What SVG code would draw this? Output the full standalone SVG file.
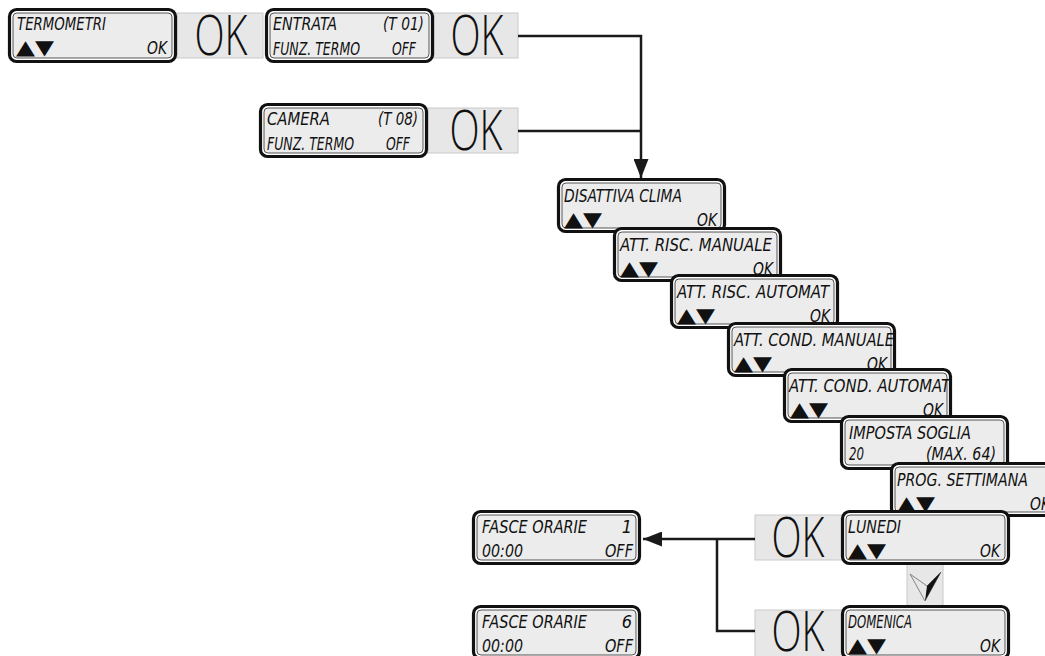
<svg xmlns="http://www.w3.org/2000/svg" width="1045" height="656" viewBox="0 0 1045 656">
<defs>
<style>
.o{fill:#fff;stroke:#111;stroke-width:3.2}
.i{fill:#ececec;stroke:#444;stroke-width:0.9}
.t{font-family:"DejaVu Sans Condensed","DejaVu Sans",sans-serif;font-style:oblique;font-size:18px;fill:#111}
.e{text-anchor:end}
.s{font-family:"DejaVu Sans",sans-serif;font-size:20px;fill:#111}
.p{fill:#e7e7e7;stroke:#c9c9c9;stroke-width:1}
.k{font-family:"Open Sans","Liberation Sans",sans-serif;font-weight:300;font-size:55px;text-anchor:middle;fill:#111}
.c{fill:none;stroke:#1a1a1a;stroke-width:2.5}
</style>
<marker id="ah" markerWidth="19" markerHeight="15" refX="19" refY="7.5" orient="auto" markerUnits="userSpaceOnUse"><path d="M0,0 L19,7.5 L0,15 Z" fill="#1a1a1a"/></marker>
</defs>
<rect width="1045" height="656" fill="#fff"/>
<g id="panels">
<rect class="p" x="177" y="13" width="86" height="45"/>
<text class="k" x="221" y="55" textLength="53" lengthAdjust="spacingAndGlyphs">OK</text>
<rect class="p" x="434" y="13" width="84" height="45"/>
<text class="k" x="477" y="55" textLength="53" lengthAdjust="spacingAndGlyphs">OK</text>
<rect class="p" x="428" y="108" width="90" height="45"/>
<text class="k" x="476" y="150" textLength="53" lengthAdjust="spacingAndGlyphs">OK</text>
<rect class="p" x="755" y="515" width="88" height="45"/>
<text class="k" x="798" y="557" textLength="53" lengthAdjust="spacingAndGlyphs">OK</text>
<rect class="p" x="755" y="610" width="88" height="47"/>
<text class="k" x="798" y="651" textLength="53" lengthAdjust="spacingAndGlyphs">OK</text>
<rect class="p" x="907" y="563" width="36" height="44"/>
<polygon points="910,574 927,586 941,572 925,601" fill="none" stroke="#777" stroke-width="0.9"/>
<polygon points="927,586 941,572 925,601" fill="#111"/>
</g>
<g id="connectors">
<path class="c" d="M518,36 H641 V178" marker-end="url(#ah)"/>
<path class="c" d="M518,131 H641"/>
<path class="c" d="M755,539 H643" marker-end="url(#ah)"/>
<path class="c" d="M717,539 V631 H755"/>
</g>
<g id="n-termometri">
<rect class="o" x="9.5" y="9.5" width="166" height="52" rx="7"/>
<rect class="i" x="13" y="13" width="159" height="45" rx="4"/>
<text class="t" x="17" y="30" textLength="89" lengthAdjust="spacingAndGlyphs">TERMOMETRI</text>
<text class="s" x="16" y="54" textLength="38" lengthAdjust="spacingAndGlyphs">▲▼</text>
<text class="t e" x="167" y="54" textLength="20" lengthAdjust="spacingAndGlyphs">OK</text>
</g>
<g id="n-entrata">
<rect class="o" x="266.5" y="9.5" width="166" height="52" rx="7"/>
<rect class="i" x="270" y="13" width="159" height="45" rx="4"/>
<text class="t" x="273" y="30" textLength="64" lengthAdjust="spacingAndGlyphs">ENTRATA</text>
<text class="t e" x="424" y="30" textLength="41" lengthAdjust="spacingAndGlyphs">(T 01)</text>
<text class="t" x="273" y="55" textLength="87" lengthAdjust="spacingAndGlyphs">FUNZ. TERMO</text>
<text class="t e" x="416" y="55" textLength="24" lengthAdjust="spacingAndGlyphs">OFF</text>
</g>
<g id="n-camera">
<rect class="o" x="260.5" y="104.5" width="166" height="52" rx="7"/>
<rect class="i" x="264" y="108" width="159" height="45" rx="4"/>
<text class="t" x="267" y="125" textLength="63" lengthAdjust="spacingAndGlyphs">CAMERA</text>
<text class="t e" x="418" y="125" textLength="40" lengthAdjust="spacingAndGlyphs">(T 08)</text>
<text class="t" x="267" y="150" textLength="87" lengthAdjust="spacingAndGlyphs">FUNZ. TERMO</text>
<text class="t e" x="410" y="150" textLength="24" lengthAdjust="spacingAndGlyphs">OFF</text>
</g>
<g id="n-disattiva">
<rect class="o" x="558.5" y="179.5" width="166" height="52" rx="7"/>
<rect class="i" x="562" y="183" width="159" height="45" rx="4"/>
<text class="t" x="564" y="202" textLength="118" lengthAdjust="spacingAndGlyphs">DISATTIVA CLIMA</text>
<text class="s" x="564" y="226" textLength="38" lengthAdjust="spacingAndGlyphs">▲▼</text>
<text class="t e" x="717" y="226" textLength="20" lengthAdjust="spacingAndGlyphs">OK</text>
</g>
<g id="n-risc-man">
<rect class="o" x="614.5" y="228.5" width="166" height="52" rx="7"/>
<rect class="i" x="618" y="232" width="159" height="45" rx="4"/>
<text class="t" x="620" y="251" textLength="152" lengthAdjust="spacingAndGlyphs">ATT. RISC. MANUALE</text>
<text class="s" x="620" y="275" textLength="38" lengthAdjust="spacingAndGlyphs">▲▼</text>
<text class="t e" x="773" y="275" textLength="20" lengthAdjust="spacingAndGlyphs">OK</text>
</g>
<g id="n-risc-aut">
<rect class="o" x="671.5" y="275.5" width="166" height="52" rx="7"/>
<rect class="i" x="675" y="279" width="159" height="45" rx="4"/>
<text class="t" x="677" y="298" textLength="152" lengthAdjust="spacingAndGlyphs">ATT. RISC. AUTOMAT</text>
<text class="s" x="677" y="322" textLength="38" lengthAdjust="spacingAndGlyphs">▲▼</text>
<text class="t e" x="830" y="322" textLength="20" lengthAdjust="spacingAndGlyphs">OK</text>
</g>
<g id="n-cond-man">
<rect class="o" x="728.5" y="323.5" width="166" height="52" rx="7"/>
<rect class="i" x="732" y="327" width="159" height="45" rx="4"/>
<text class="t" x="734" y="346" textLength="160" lengthAdjust="spacingAndGlyphs">ATT. COND. MANUALE</text>
<text class="s" x="734" y="370" textLength="38" lengthAdjust="spacingAndGlyphs">▲▼</text>
<text class="t e" x="887" y="370" textLength="20" lengthAdjust="spacingAndGlyphs">OK</text>
</g>
<g id="n-cond-aut">
<rect class="o" x="784.5" y="369.5" width="166" height="52" rx="7"/>
<rect class="i" x="788" y="373" width="159" height="45" rx="4"/>
<text class="t" x="789" y="392" textLength="161" lengthAdjust="spacingAndGlyphs">ATT. COND. AUTOMAT</text>
<text class="s" x="790" y="416" textLength="38" lengthAdjust="spacingAndGlyphs">▲▼</text>
<text class="t e" x="943" y="416" textLength="20" lengthAdjust="spacingAndGlyphs">OK</text>
</g>
<g id="n-soglia">
<rect class="o" x="841.5" y="416.5" width="166" height="52" rx="7"/>
<rect class="i" x="845" y="420" width="159" height="45" rx="4"/>
<text class="t" x="849" y="439" textLength="122" lengthAdjust="spacingAndGlyphs">IMPOSTA SOGLIA</text>
<text class="t" x="849" y="460" textLength="15" lengthAdjust="spacingAndGlyphs">20</text>
<text class="t e" x="996" y="460" textLength="70" lengthAdjust="spacingAndGlyphs">(MAX. 64)</text>
</g>
<g id="n-prog">
<rect class="o" x="891.5" y="463.5" width="166" height="52" rx="7"/>
<rect class="i" x="895" y="467" width="159" height="45" rx="4"/>
<text class="t" x="897" y="486" textLength="131" lengthAdjust="spacingAndGlyphs">PROG. SETTIMANA</text>
<text class="s" x="897" y="510" textLength="38" lengthAdjust="spacingAndGlyphs">▲▼</text>
<text class="t e" x="1050" y="510" textLength="20" lengthAdjust="spacingAndGlyphs">OK</text>
</g>
<g id="n-lunedi">
<rect class="o" x="842.5" y="511.5" width="166" height="52" rx="7"/>
<rect class="i" x="846" y="515" width="159" height="45" rx="4"/>
<text class="t" x="848" y="533" textLength="53" lengthAdjust="spacingAndGlyphs">LUNEDI</text>
<text class="s" x="848" y="557" textLength="38" lengthAdjust="spacingAndGlyphs">▲▼</text>
<text class="t e" x="1000" y="557" textLength="20" lengthAdjust="spacingAndGlyphs">OK</text>
</g>
<g id="n-domenica">
<rect class="o" x="842.5" y="606.5" width="166" height="52" rx="7"/>
<rect class="i" x="846" y="610" width="159" height="45" rx="4"/>
<text class="t" x="848" y="628" textLength="64" lengthAdjust="spacingAndGlyphs">DOMENICA</text>
<text class="s" x="848" y="652" textLength="38" lengthAdjust="spacingAndGlyphs">▲▼</text>
<text class="t e" x="1000" y="652" textLength="20" lengthAdjust="spacingAndGlyphs">OK</text>
</g>
<g id="n-fasce1">
<rect class="o" x="473.5" y="511.5" width="166" height="52" rx="7"/>
<rect class="i" x="477" y="515" width="159" height="45" rx="4"/>
<text class="t" x="482" y="533" textLength="105" lengthAdjust="spacingAndGlyphs">FASCE ORARIE</text>
<text class="t e" x="632" y="533">1</text>
<text class="t" x="482" y="557" textLength="41" lengthAdjust="spacingAndGlyphs">00:00</text>
<text class="t e" x="633" y="557" textLength="28" lengthAdjust="spacingAndGlyphs">OFF</text>
</g>
<g id="n-fasce6">
<rect class="o" x="473.5" y="606.5" width="166" height="52" rx="7"/>
<rect class="i" x="477" y="610" width="159" height="45" rx="4"/>
<text class="t" x="482" y="628" textLength="105" lengthAdjust="spacingAndGlyphs">FASCE ORARIE</text>
<text class="t e" x="632" y="628">6</text>
<text class="t" x="482" y="652" textLength="41" lengthAdjust="spacingAndGlyphs">00:00</text>
<text class="t e" x="633" y="652" textLength="28" lengthAdjust="spacingAndGlyphs">OFF</text>
</g>
</svg>
